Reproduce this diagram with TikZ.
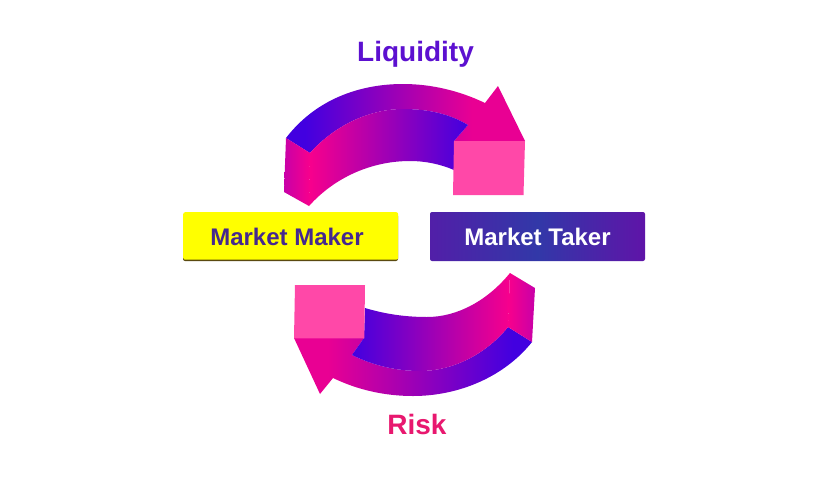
\documentclass[tikz,border=0pt]{standalone}
\usepackage{fontspec}
\setmainfont{Liberation Sans}
\definecolor{arrowblue}{HTML}{4200E0}
\definecolor{arrowpink}{HTML}{F8008C}
\definecolor{arrowmag}{HTML}{C800A8}
\definecolor{boxpink}{HTML}{FF48A8}
\definecolor{makertext}{HTML}{45288F}
\definecolor{makerfill}{RGB}{255,255,0}
\definecolor{makeredge}{HTML}{5A4A10}
\definecolor{takerblue}{HTML}{3238A8}
\definecolor{takerpurple}{HTML}{5F14A8}
\definecolor{liqcolor}{HTML}{5C10D0}
\definecolor{riskcolor}{HTML}{E8186F}
\pgfdeclarehorizontalshading{upperband}{100bp}{
  color(0bp)=(arrowblue); color(29bp)=(arrowblue); color(64bp)=(arrowpink!92!arrowblue); color(100bp)=(arrowpink!92!arrowblue)}
\pgfdeclarehorizontalshading{lowerband}{100bp}{
  color(0bp)=(arrowpink!92!arrowblue); color(32bp)=(arrowpink!92!arrowblue); color(71bp)=(arrowblue); color(100bp)=(arrowblue)}
\tikzset{
  btn/.style={rounded corners=2pt,minimum width=215pt,minimum height=47.5pt,inner sep=0pt,anchor=north west},
  btntext/.style={font=\fontsize{24}{26}\selectfont\bfseries},
  lbl/.style={font=\fontsize{28}{30}\selectfont\bfseries},
}
\begin{document}
\begin{tikzpicture}[x=1pt,y=-1pt]
\useasboundingbox (0,0) rectangle (825,480);
\fill[white] (0,0) rectangle (825,480);
% upper arrow
\shade[shading=upperband]
  (286,138) .. controls (316,99) and (360,84) .. (403,84)
  .. controls (432,84) and (460,91) .. (485,103)
  -- (498,86) -- (525,141) -- (454,141) -- (468,125)
  .. controls (450,114) and (428,109) .. (403,109)
  .. controls (370,109) and (335,125) .. (310,153) -- cycle;
\shade[left color=arrowpink,right color=arrowblue]
  (310,153) .. controls (335,125) and (370,109) .. (403,109)
  .. controls (428,109) and (450,114) .. (468,125)
  -- (454,141) -- (454,170)
  .. controls (440,164) and (425,161) .. (410,161)
  .. controls (372,161) and (335,177) .. (309,206) -- cycle;
\shade[left color=arrowmag,right color=arrowpink]
  (286,138) -- (310,153) -- (309,206) -- (284,192) -- cycle;
\fill[boxpink] (454,141) -- (525,141) -- (523.5,195) -- (453,195) -- cycle;
% lower arrow
\shade[shading=lowerband]
  (294,338) -- (364,338) -- (352,355)
  .. controls (374,366) and (398,371) .. (420,371)
  .. controls (455,371) and (488,352) .. (508,327)
  -- (532,342)
  .. controls (505,376) and (460,396) .. (413,396)
  .. controls (385,396) and (358,390) .. (333,378)
  -- (320,394) -- cycle;
\shade[left color=arrowblue,right color=arrowpink]
  (365,308) .. controls (385,314) and (405,317) .. (427,317)
  .. controls (458,317) and (488,300) .. (510,273)
  -- (508,327)
  .. controls (488,352) and (455,371) .. (420,371)
  .. controls (398,371) and (374,366) .. (352,355)
  -- (364,338) -- cycle;
\shade[left color=arrowpink,right color=arrowmag]
  (510,273) -- (535,288) -- (532,342) -- (508,327) -- cycle;
\fill[boxpink] (295,285) -- (365,285) -- (364.3,338.3) -- (294,338.3) -- cycle;
% buttons
\fill[makeredge,rounded corners=2pt] (183,214) rectangle (398,261);
\node[btn,fill=makerfill] (maker) at (183,212) {};
\node[text=makertext,btntext] (makerlabel) at (287,237) {Market Maker};
\shade[rounded corners=2pt,left color=takerpurple!70!takerblue,right color=takerpurple,middle color=takerblue]
  (430,212) rectangle (645,261);
\node[text=white,btntext] (takerlabel) at (537.5,237) {Market Taker};
% labels
\node[lbl,text=liqcolor] (liq) at (415.5,54.5) {Liquidity};
\node[lbl,text=riskcolor] (risk) at (417,424) {Risk};
\end{tikzpicture}
\end{document}
